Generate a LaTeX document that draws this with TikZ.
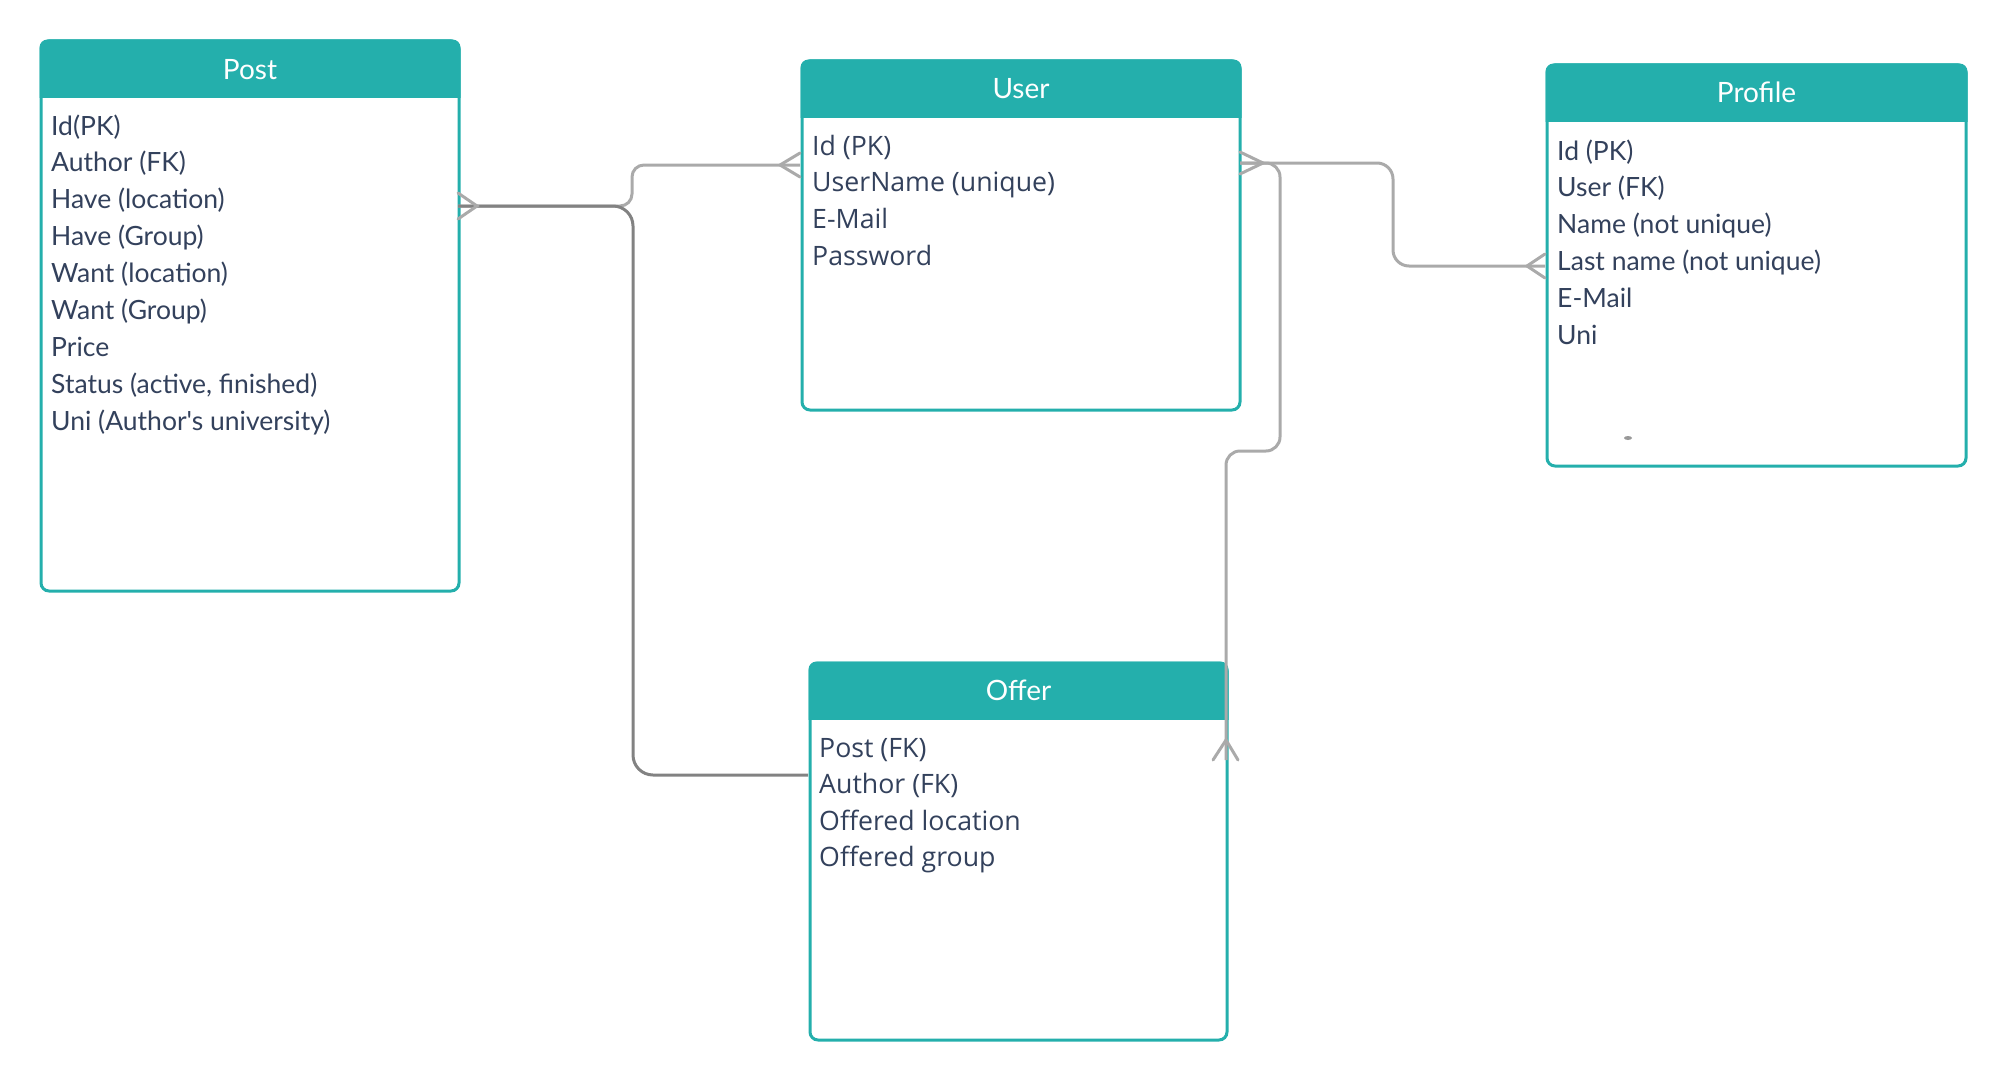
\documentclass[tikz,border=0pt]{standalone}
\usepackage{fontspec}
\setmainfont{Lato}[Ligatures=TeXOff]
\newfontfamily\osfont{Open Sans}
\usetikzlibrary{calc}
\definecolor{teal1}{HTML}{24AFAC}
\definecolor{ink}{HTML}{33415C}
\definecolor{lgray}{HTML}{AAAAAA}
\definecolor{dgray}{HTML}{828282}
\begin{document}
\begin{tikzpicture}[x=1pt,y=-1pt,
  box/.style={draw=teal1, line width=3pt, rounded corners=8pt, fill=white, inner sep=0pt, anchor=north west},
  ttl/.style={text=white, anchor=base, inner sep=0pt, font=\fontsize{28}{34}\selectfont},
  row/.style={text=ink, anchor=base west, inner sep=0pt, font=\fontsize{26.5}{32}\selectfont},
  orow/.style={row, font=\osfont\fontsize{26.7}{32}\selectfont},
  conn/.style={draw=lgray, line width=3pt},
  dconn/.style={draw=dgray, line width=3pt, rounded corners=20pt},
  foot/.style={draw=lgray, line width=3pt, line cap=round, line join=miter}]
\useasboundingbox (0,0) rectangle (2005,1081);

% ---------- boxes ----------
\node[box, minimum width=418pt, minimum height=550pt] (post) at (39.5,39.5) {};
\node[box, minimum width=438pt, minimum height=349pt] (user) at (800.5,59.5) {};
\node[box, minimum width=419pt, minimum height=401pt] (profile) at (1545.5,63.5) {};
\node[box, minimum width=417pt, minimum height=377pt] (offer) at (808.5,661.5) {};

\foreach \b in {post,user,profile,offer}{
  \begin{scope}
    \clip[rounded corners=8pt] (\b.north west) rectangle (\b.south east);
    \fill[teal1] ([xshift=-3pt,yshift=3pt]\b.north west) rectangle ([xshift=3pt,yshift=-58.5pt]\b.north east);
  \end{scope}
}

% ---------- titles ----------
\node[ttl] (post-title) at (post.north |- 0,79) {Post};
\node[ttl] (user-title) at (user.north |- 0,98) {User};
\node[ttl] (profile-title) at (profile.north |- 0,102) {Profile};
\node[ttl] (offer-title) at (offer.north |- 0,700) {Offer};

% ---------- rows ----------
\foreach \t [count=\i] in {Id(PK), Author (FK), Have (location), Have (Group), Want (location), Want (Group), Price, {Status (active, finished)}, Uni (Author's university)}
  \node[row] (post-\i) at (51,{135+36.9*(\i-1)}) {\t};
\foreach \t [count=\i] in {Id (PK), UserName (unique), E-Mail, Password}
  \node[orow] (user-\i) at (812,{155+36.9*(\i-1)}) {\t};
\foreach \t [count=\i] in {Id (PK), User (FK), Name (not unique), Last name (not unique), E-Mail, Uni}
  \node[row] (profile-\i) at (1557,{160+36.9*(\i-1)}) {\t};
\foreach \t [count=\i] in {Post (FK), Author (FK), Offered location, Offered group}
  \node[orow] (offer-\i) at (819,{757+36.5*(\i-1)}) {\t};

\fill[gray!80] (1628,438) ellipse (4pt and 2pt);

% ---------- connector ends ----------
\coordinate (pe) at (458,206);
\coordinate (uw) at (800,165);
\coordinate (ue) at (1240,163);
\coordinate (pw) at (1545,266);
\coordinate (ow) at (808,775);
\coordinate (oe) at (1226,760);

% ---------- connectors ----------
\draw[conn, rounded corners=12pt] (pe) -- (632,206) -- (632,165) -- (uw);
\draw[conn, rounded corners=16pt] (ue) -- (1393,163) -- (1393,266) -- (pw);
\draw[conn, rounded corners=14pt] (ue) -- (1280,163) -- (1280,451) -- (1226,451) -- (oe);
\draw[dconn] (pe) -- (633,206) -- (633,775) -- (ow);

% ---------- crow's feet ----------
\draw[foot] (458,193) -- (477,206) -- (458,219);
\draw[foot] (800,153) -- (780,165) -- (800,177);
\draw[foot] (1240,152) -- (1263,163) -- (1240,174);
\draw[foot] (1545,254) -- (1527,266) -- (1545,278);
\draw[foot] (1213,760) -- (1226,740) -- (1238,760);
\end{tikzpicture}
\end{document}
